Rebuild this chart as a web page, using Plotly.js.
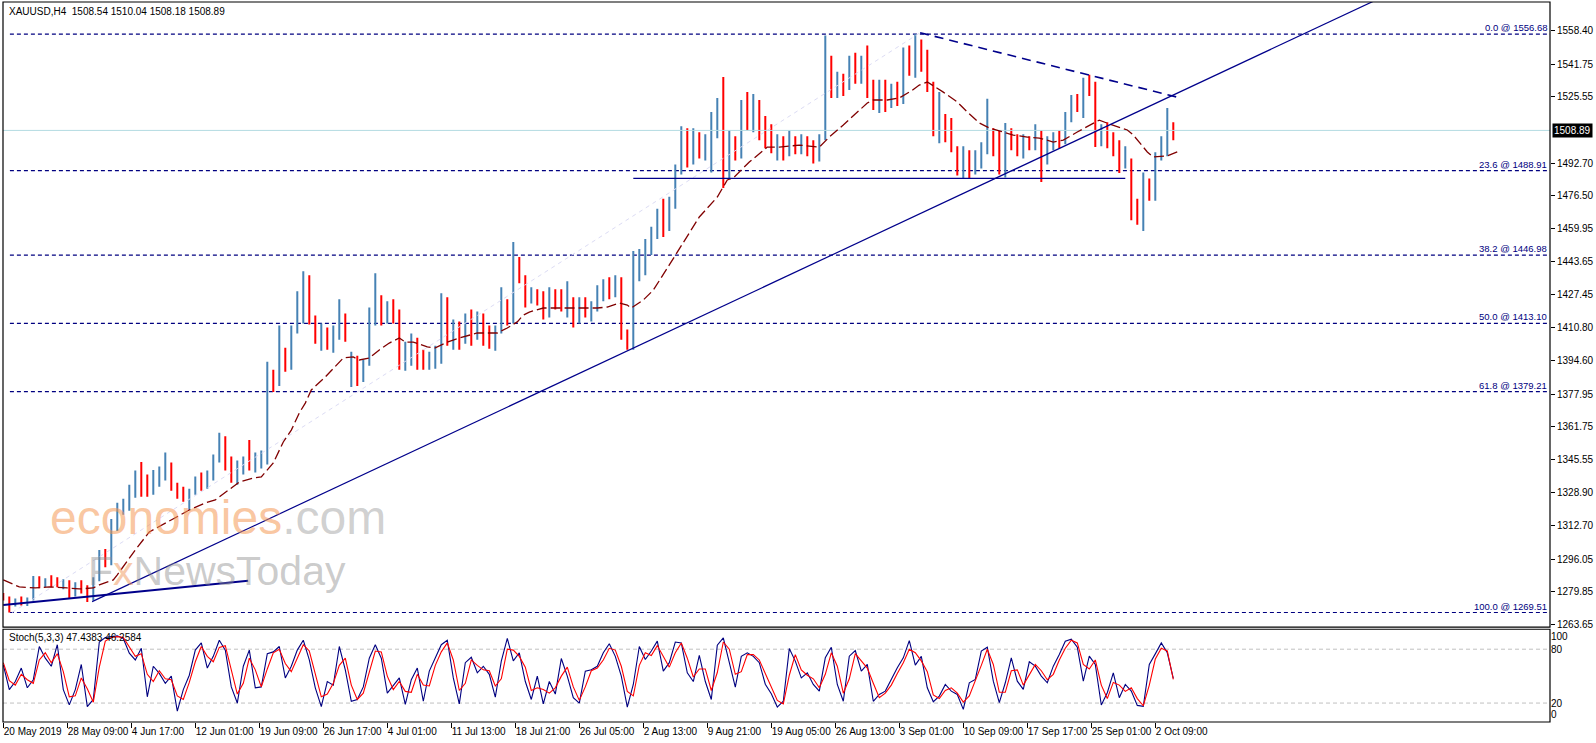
<!DOCTYPE html>
<html><head><meta charset="utf-8">
<script src="https://cdn.plot.ly/plotly-3.0.1.min.js"></script>
<style>html,body{margin:0;padding:0;background:#fff}#chart{width:1596px;height:743px}</style>
</head><body><div id="chart"></div>
<script>
// ---- data ----
const dateLabels = ["20 May 2019","28 May 09:00","4 Jun 17:00","12 Jun 01:00","19 Jun 09:00","26 Jun 17:00","4 Jul 01:00","11 Jul 13:00","18 Jul 21:00","26 Jul 05:00","2 Aug 13:00","9 Aug 21:00","19 Aug 05:00","26 Aug 13:00","3 Sep 01:00","10 Sep 09:00","17 Sep 17:00","25 Sep 01:00","2 Oct 09:00"];
const labelBar = [0,32,64,96,128,160,192,224,256,288,320,352,384,416,448,480,512,544,576];
const barsPerPoint = 3;

const O = [1278.5,1276.5,1273,1275,1274,1276,1286,1283,1285,1283.5,
1283,1284.5,1278,1283,1280,1276,1286,1298,1294,1313,
1320,1322,1330,1337,1331,1329,1337,1340,1341,1332,
1328,1326,1329,1335,1333,1338,1346,1355,1342,1336,
1342,1345,1343,1345,1347,1388,1383,1393,1391,1410,
1426,1431,1416,1406,1409,1403,1408,1414,1390,1394,
1385,1393,1418,1422,1416,1420,1416,1393,1398,1404,
1393,1392,1396,1399,1424,1406,1412,1408,1415,1410,
1415,1405,1403,1409,1418,1414,1441,1436,1425,1428,
1425,1418,1426,1422,1421,1423,1416,1424,1419,1421,
1430,1432,1428,1434,1408,1402,1441,1446,1450,1458,
1466,1460,1472,1488,1497,1495,1500,1498,1503,1512,
1520,1490,1505,1497,1520,1514,1522,1508,1503,1500,
1503,1498,1505,1499,1504,1500,1495,1505,1545,1530,
1534,1530,1542,1536,1543,1528,1524,1528,1522,1527,
1524,1546,1539,1552,1541,1531,1510,1515,1506,1500,
1489,1497,1490,1495,1500,1503,1499,1492,1506,1502,
1500,1504,1501,1508,1494,1503,1506,1503,1515,1522,
1520,1532,1529,1506,1509,1503,1499,1492,1494,1468,
1465,1480,1477,1495,1500,1512];
const H = [1279.2,1277.5,1276.5,1277.5,1277,1287.6,1287.5,1286.5,1288,1287,
1286,1285.5,1284.5,1285.5,1283,1287,1300.5,1301,1316,1324,
1326,1333,1340,1344.2,1338,1340.3,1342,1348.9,1344,1334,
1332,1331,1337,1339,1340,1348,1358.8,1357,1347,1345,
1347,1355.2,1349,1350,1394,1390,1412,1401,1412,1429,
1439,1437,1417,1413,1411,1412,1425,1418,1399,1397,
1395,1421,1438,1427,1424,1425,1420,1404,1408,1406,
1400,1399,1402,1428,1426,1415,1414,1418,1420,1419,
1418,1412,1412,1431,1425,1453.5,1446,1437,1431,1430,
1429,1431,1430,1430,1434,1426,1426,1426,1424,1432,
1435,1436,1437,1436,1410,1449,1450,1455,1461,1470,
1475,1476,1492,1511,1510,1510,1508,1507,1518,1525,
1535.4,1509,1506,1524,1528,1527,1524,1516,1512,1507,
1506,1509,1506,1507,1506,1504,1507,1556,1546,1538,
1537,1546,1547.5,1546,1551,1534,1534,1534,1532,1533,
1550,1551,1556.7,1554,1549,1533,1528,1517,1515,1501,
1501,1499,1499,1503,1524.6,1510,1509,1512.6,1510,1507,
1507,1506,1512,1509,1506,1508,1509,1518,1526.5,1527,
1535,1536.5,1533,1512,1513,1508,1504,1501,1495,1475,
1488,1485,1498,1506,1520,1513];
const L = [1275.5,1269.5,1272.5,1273,1272.8,1275.5,1281.5,1282,1282,1282,
1281,1276.7,1277.5,1279,1274.7,1275.5,1285,1292,1293,1310,
1318,1320,1326.5,1327,1327,1328,1332,1335,1330,1326,
1324.5,1320.4,1328,1330,1331,1335,1344,1340,1334,1333,
1338,1340,1339,1341,1343,1379,1382,1389,1390,1408,
1413,1412.5,1403,1399.5,1400,1398.5,1405,1404,1381.5,1382,
1384,1392,1412,1412,1413,1413,1390,1389.5,1392,1390,
1390,1390,1390.5,1393,1402,1400,1400,1403,1402,1405,
1402,1400.5,1399.5,1408,1412,1413,1433,1421,1423,1422,
1415,1416,1420,1419,1416,1411,1413,1416,1414,1419,
1424,1425,1426,1405,1400,1400,1434,1437,1447,1455,
1456,1459,1470,1487,1490.5,1492,1495,1494,1488,1505,
1480.3,1485,1494,1495,1509,1508,1504,1500,1497.5,1494,
1494,1496,1497,1497,1496,1492.5,1493.5,1504,1525,1525,
1526,1529,1532,1532,1525,1519,1517.5,1518,1520,1521,
1522,1536,1535,1538,1528,1506,1502.5,1503,1498,1486.5,
1485,1485,1487,1490,1497,1496,1487,1485.5,1499,1496,
1495,1499,1499,1483.3,1492,1499,1500,1502,1513,1518,
1515,1526,1500.6,1501,1500,1496,1487.7,1490,1464.3,1462,
1459,1474,1474,1494,1496,1504];
const C = [1276,1273,1275,1274,1276,1286,1283,1285,1283.5,1282.5,
1285,1278,1283,1280,1276,1286,1298,1294,1313,1320,
1322,1330,1337,1330,1329,1337,1340,1341,1332,1328,
1326,1329,1335,1333,1338,1346,1355,1342,1336,1342,
1345,1343,1345,1347,1388,1382,1393,1391,1410,1427,
1431,1416,1406,1409,1403,1410,1414,1407,1394,1385,
1393,1418,1422,1416,1420,1416,1393,1398,1404,1393,
1392,1396,1399,1424,1406,1412,1408,1415,1410,1415,
1405,1403,1409,1418,1414,1441,1436,1425,1428,1425,
1418,1426,1422,1421,1423,1416,1424,1419,1421,1430,
1432,1428,1434,1408,1402,1441,1446,1450,1458,1466,
1460,1472,1488,1497,1495,1500,1498,1503,1512,1520,
1490,1505,1497,1520,1514,1522,1508,1503,1500,1503,
1498,1505,1499,1504,1500,1495,1505,1545,1530,1534,
1530,1542,1536,1543,1528,1524,1528,1522,1527,1524,
1546,1539,1552,1541,1531,1510,1515,1506,1500,1489,
1497,1490,1495,1500,1503,1499,1492,1506,1502,1500,
1504,1501,1508,1494,1503,1506,1503,1515,1522,1520,
1532,1529,1506,1509,1503,1499,1492,1494,1468,1465,
1480,1477,1495,1500,1512,1508.89];

const maBar = [0,8,16,23,32,38,45,48,55,57,66,73,93,101,106,113,118,125,129,135,140,144,148,151,154,161,165,170,175,178,183,188,193,198,201,205,212,216,222,228,237,247,252,257,260,263,270,278,288,297,302,308,312,314,320,325,333,340,348,357,362,365,373,382,388,398,408,413,420,432,435,442,448,454,458,462,470,477,482,488,493,500,505,512,518,525,530,537,542,548,553,562,565,572,575,582,587];
const maVal = [1285.7,1282.2,1281.7,1282.2,1281.7,1281.2,1281.7,1283.2,1285.7,1288.2,1300.6,1309.5,1320.4,1323.9,1325.4,1330.4,1334.3,1336.3,1336.8,1343.8,1354.2,1360.1,1368.6,1373.5,1380.0,1386.5,1390.9,1395.9,1396.4,1394.9,1395.9,1399.9,1403.3,1405.8,1403.8,1403.8,1401.4,1400.9,1403.8,1405.8,1408.3,1408.3,1410.8,1413.8,1417.2,1418.7,1420.7,1420.7,1420.7,1420.7,1421.2,1423.2,1422.2,1420.7,1424.7,1429.6,1442.1,1453.5,1465.9,1475.8,1484.3,1485.3,1493.2,1500.6,1500.6,1501.6,1500.6,1505.6,1511.6,1522.5,1524.0,1524.0,1525.0,1528.5,1531.4,1532.9,1527.9,1523.0,1518.0,1512.6,1510.1,1508.1,1506.6,1505.6,1505.1,1503.1,1504.1,1508.1,1510.6,1514.0,1512.1,1509.1,1506.6,1498.2,1495.7,1496.2,1498.2];

const stochK = [62.6,35,44,59,37,46,83,70,61,85,
35,18,35,63,16,24,88,93,94,95,
92,75.5,68,81,27,61,53,42,50,11,
35,51,79,87,59,72,90,79,38,20,
61,79,37,38,75,77,83,48,61,79,
90,68,37,16,44,40,83,57,22,24,
38,70,85,70,31,39,48,18.5,46,59,
22,55.6,69.6,85,90,48,19,65,71,53.7,
61,52,26.7,66.7,92,67,76,44,24,50,
19,44,30,69.6,50,26,20,55.6,57,61,
76,86,72,50,15.5,40.7,83,68.5,78,89,
55.6,65,88,87,53.7,44,73,44,24,84.5,
92.6,66.7,37.8,72,76,72,65,41,30.4,15.5,
22,80.7,66.7,48,53.7,40.7,33.3,70.4,82.2,40.7,
22,72.2,78.5,55.6,63,22,29.6,33.3,46.3,59.3,
70.4,89.6,62.2,72,37,21.5,27.8,40.7,33.3,29.6,
13,42.6,46.3,77.8,82.2,44.4,20.4,42.6,70.4,44.4,
35.2,66,61.1,50,42.6,61.1,74,88.9,91.1,82.2,
44.4,72.2,63,17.8,31.5,53.7,26,40.7,33.3,17.4,
16.3,63,74.8,87,76,47.4383];
const stochD = [65,45,40,52,46,42,68,76,65,75,
55,27,28,48,36,21,60,89,93,94,
93,83,72,75,52,44,56,47,46,28,
24,43,66,83,72,66,82,84,58,30,
42,70,57,38,58,76,80,64,55,70,
85,78,52,27,30,42,62,70,40,24,
31,55,78,77,50,35,44,33,32,52,
40,39,62,77,87,68,34,42,68,62,
57,56,39,47,80,79,72,60,34,37,
35,31,37,50,60,38,23,38,56,59,
68,81,79,61,33,28,62,76,73,84,
72,60,76,87,70,49,58,58,34,54,
88,80,52,55,74,74,68,53,36,23,
19,51,74,57,51,47,37,52,76,61,
31,47,75,67,59,42,26,31,40,53,
65,80,76,67,55,29,25,34,37,31,
21,28,44,62,80,63,32,32,56,57,
40,51,63,56,46,52,68,81,90,87,
63,58,68,40,25,43,40,33,37,25,
17,40,69,81,78,46.2584];

const fibLevels = [1556.68,1488.91,1446.98,1413.10,1379.21,1269.51];
const fibNames = ["0.0","23.6","38.2","50.0","61.8","100.0"];
const priceTicks = [1558.40,1541.75,1525.55,1492.70,1476.50,1459.95,1443.65,1427.45,1410.80,1394.60,1377.95,1361.75,1345.55,1328.90,1312.70,1296.05,1279.85,1263.65];
const stochLevels = [80,20];
const stochTickVals = [94,80,20,6.7];
const stochTickText = ["100","80","20","0"];
const lastPrice = 1508.89;
const headerText = "XAUUSD,H4\u00a0\u00a01508.54 1510.04 1508.18 1508.89";
const stochText = "Stoch(5,3,3) 47.4383 46.2584";

const supportBar = [315,561], supportVal = [1485.1,1485.1];
const trendMainBar = [44.4,688], trendMainVal = [1274.9,1574.4];
const trendLowBar = [0,122.4], trendLowVal = [1273.2,1285.3];
const trendDownBar = [458.4,587.4], trendDownVal = [1557.4,1525.3];
const guideBar = [4.35,458.4], guideVal = [1269.5,1557.4];

// ---- chart ----
const barX = O.map((_, i) => i * barsPerPoint);
const NAVY = '#000080';
const line = (x, y, color, width, dash, yaxis) => ({type:'scatter', mode:'lines', x, y, yaxis: yaxis||'y', line:{color, width, dash: dash||'solid'}, hoverinfo:'skip'});

const traces = [
  line([-1, 800], [lastPrice, lastPrice], '#b4dbe2', 1),
  line(guideBar, guideVal, '#dcdcf4', 1, '4px,4px'),
  {type:'ohlc', x: barX, open:O, high:H, low:L, close:C, tickwidth:0.12,
   increasing:{line:{color:'#4682B4', width:2}}, decreasing:{line:{color:'#FF0000', width:2}}, hoverinfo:'skip'},
  line(maBar, maVal, '#800000', 1.3, '10px,4px'),
  line(trendMainBar, trendMainVal, '#00008B', 1.2),
  line(trendLowBar, trendLowVal, '#00008B', 2),
  line(supportBar, supportVal, '#00008B', 1.3),
  line(trendDownBar, trendDownVal, '#00008B', 1.6, '9px,6px'),
  line(barX, stochK, NAVY, 1.1, 'solid', 'y2'),
  line(barX, stochD, '#FF0000', 1.1, 'solid', 'y2')
];

const shapes = [];
fibLevels.forEach(v => shapes.push({type:'line', xref:'x', yref:'y', x0:3.3, x1:790, y0:v, y1:v, line:{color:NAVY, width:1.2, dash:'4px,3px'}, layer:'below'}));
stochLevels.forEach(v => shapes.push({type:'line', xref:'paper', yref:'y2', x0:0, x1:1, y0:v, y1:v, line:{color:'#c0c0c0', width:1, dash:'4px,3px'}, layer:'below'}));
const mainBottom = 0.1319, stochTop = 0.1288;
shapes.push({type:'rect', xref:'paper', yref:'paper', x0:0, x1:1, y0:mainBottom, y1:1, line:{color:'#000', width:1.2}});
shapes.push({type:'rect', xref:'paper', yref:'paper', x0:0, x1:1, y0:0, y1:stochTop, line:{color:'#000', width:1.2}});

const FONT = 'Liberation Sans, Arial, sans-serif';
const annotations = [];
fibLevels.forEach((v, i) => annotations.push({xref:'paper', yref:'y', x:0.9987, y:v, xanchor:'right', yanchor:'bottom', text: fibNames[i] + ' @ ' + v.toFixed(2), showarrow:false, font:{family:FONT, size:9.5, color:NAVY}, borderpad:0}));
annotations.push({xref:'paper', yref:'y', x:1, y:lastPrice, xanchor:'left', yanchor:'middle', xshift:2, text: lastPrice.toFixed(2), showarrow:false, bgcolor:'#000', font:{family:FONT, size:10, color:'#fff'}, borderpad:1});
annotations.push({xref:'paper', yref:'paper', x:0.0026, y:0.9865, xanchor:'left', yanchor:'middle', text: headerText, showarrow:false, font:{family:FONT, size:10, color:'#000'}});
annotations.push({xref:'paper', yref:'paper', x:0.0026, y:0.1167, xanchor:'left', yanchor:'middle', text: stochText, showarrow:false, font:{family:FONT, size:10, color:'#000'}});
annotations.push({xref:'paper', yref:'paper', x:0.030, y:0.2458, xanchor:'left', yanchor:'bottom', showarrow:false, borderpad:0,
  text:'<span style="color:rgba(245,150,80,0.55)">economies</span><span style="color:rgba(150,150,150,0.45)">.com</span>',
  font:{family:'Liberation Sans, Arial, sans-serif', size:48}});
annotations.push({xref:'paper', yref:'paper', x:0.054, y:0.2430, xanchor:'left', yanchor:'top', showarrow:false, borderpad:0,
  text:'<span style="color:rgba(140,140,140,0.45)">F</span><span style="color:rgba(240,150,90,0.5)">x</span><span style="color:rgba(140,140,140,0.45)">NewsToday</span>',
  font:{family:'Liberation Sans, Arial, sans-serif', size:41}});

const layout = {
  width:1596, height:743,
  margin:{l:3, r:46, t:2, b:21, pad:0},
  paper_bgcolor:'#fff', plot_bgcolor:'#fff',
  showlegend:false,
  font:{family:FONT, size:10, color:'#000'},
  xaxis:{range:[-0.15, 773.35], anchor:'y2', tickmode:'array', tickvals:labelBar, ticktext:dateLabels, tickangle:0,
         ticks:'outside', ticklen:5, tickcolor:'#000', showgrid:false, zeroline:false, showline:false,
         ticklabelposition:'outside right', tickfont:{family:FONT, size:10, color:'#000'}, rangeslider:{visible:false}, fixedrange:true},
  yaxis:{domain:[mainBottom, 1], range:[1262.3, 1572.65], side:'right', anchor:'x', tickmode:'array', tickvals:priceTicks,
         ticktext:priceTicks.map(v => v.toFixed(2)), ticks:'outside', ticklen:4, tickcolor:'#000', showgrid:false, zeroline:false, showline:false,
         tickfont:{family:FONT, size:10, color:'#000'}},
  yaxis2:{domain:[0, stochTop], range:[-1.1, 102.2], side:'right', anchor:'x', tickmode:'array', tickvals:stochTickVals, ticktext:stochTickText,
          ticks:'', showgrid:false, zeroline:false, showline:false, tickfont:{family:FONT, size:10, color:'#000'}},
  shapes, annotations
};
Plotly.newPlot('chart', traces, layout, {displayModeBar:false, staticPlot:true});
</script></body></html>
